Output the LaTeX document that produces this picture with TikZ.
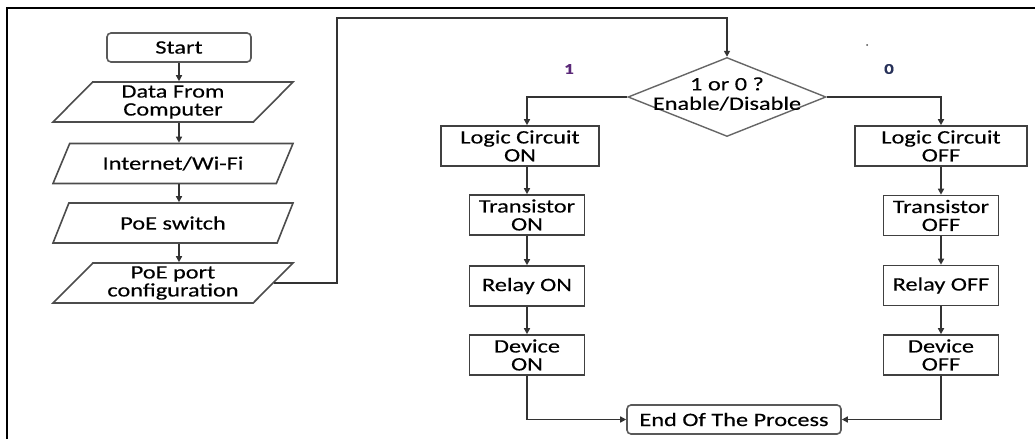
\documentclass[tikz,border=0pt]{standalone}
\usepackage{fontspec}
\setmainfont{Carlito}[FakeStretch=1.28, FakeBold=0.3]
\usetikzlibrary{
	shapes.geometric,
	arrows.meta
}
\usepackage{xcolor}

\begin{document}
\begin{tikzpicture}[x=1pt, y=-1pt,
    every node/.style={font=\fontsize{19}{18}\selectfont, text=black, inner sep=0pt, align=center},
    procbox/.style={draw=black!75, line width=1.6pt, rectangle, minimum height=40pt},
    iobox/.style={draw=black!70, line width=1.6pt, trapezium, trapezium left angle=40, trapezium right angle=140,
        trapezium stretches body, minimum width=240pt, minimum height=40pt},
    termbox/.style={draw=black!65, line width=1.6pt, rounded corners=4pt, minimum height=29pt},
    decbox/.style={draw=black!60, line width=1.4pt, diamond, minimum width=198pt, minimum height=79pt},
    arr/.style={draw=black!80, line width=1.5pt, -{Triangle[length=6pt,width=6pt]}}
]
                \useasboundingbox (0,0) rectangle (1035,439);
                % frame
                \draw[line width=2pt] (7,439) -- (7,8) -- (1035,8);
                \fill[black!70] (867,45) circle (1pt);

                % left column
                \node[termbox, minimum width=144pt] (start) at (179,47.5) {Start};
                \node[iobox] (data) at (173,102) {Data From\\Computer};
                \node[iobox] (net) at (173,163.5) {Internet/Wi-Fi};
                \node[iobox] (sw) at (173,223) {PoE switch};
                \node[iobox] (port) at (173,283) {PoE port\\configuration};
                \draw[arr] (start.south) -- (data.north -| start.south);
                \draw[arr] (data.south -| start.south) -- (net.north -| start.south);
                \draw[arr] (net.south -| start.south) -- (sw.north -| start.south);
                \draw[arr] (sw.south -| start.south) -- (port.north -| start.south);

                % decision
                \node[decbox] (dec) at (727,97) {};
                \node[font=\fontsize{19}{19.5}\selectfont] (dectxt) at (727,94) {1 or 0 ?\\Enable/Disable};
                \coordinate (bend) at (337,18);
                \draw[arr] (port.east) -| (bend) -| (dec.north);
                \node[font=\fontsize{15}{15}\selectfont\bfseries, text={rgb,255:red,90;green,40;blue,120}] (one) at (569,69) {1};
                \node[font=\fontsize{15}{15}\selectfont\bfseries, text={rgb,255:red,40;green,50;blue,90}] (zero) at (889,69) {0};

                % ON branch
                \node[procbox, minimum width=158pt] (lc1) at (520,146) {Logic Circuit\\ON};
                \node[procbox, minimum width=115pt] (tr1) at (527,215) {Transistor\\ON};
                \node[procbox, minimum width=115pt] (rl1) at (527,286) {Relay ON};
                \node[procbox, minimum width=115pt] (dv1) at (527,355) {Device\\ON};
                \draw[arr] (dec.west) -| (lc1.north -| tr1.north);
                \draw[arr] (lc1.south -| tr1.north) -- (tr1.north);
                \draw[arr] (tr1) -- (rl1);
                \draw[arr] (rl1) -- (dv1);

                % OFF branch
                \node[procbox, minimum width=172pt] (lc2) at (941,146) {Logic Circuit\\OFF};
                \node[procbox, minimum width=115pt] (tr2) at (941,215.5) {Transistor\\OFF};
                \node[procbox, minimum width=115pt] (rl2) at (941,285.5) {Relay OFF};
                \node[procbox, minimum width=115pt] (dv2) at (941,355) {Device\\OFF};
                \draw[arr] (dec.east) -| (lc2.north);
                \draw[arr] (lc2) -- (tr2);
                \draw[arr] (tr2) -- (rl2);
                \draw[arr] (rl2) -- (dv2);

                % end
                \node[termbox, minimum width=214pt] (stop) at (734,419.5) {End Of The Process};
                \draw[arr] (dv1.south) |- (stop.west);
                \draw[arr] (dv2.south) |- (stop.east);
            \end{tikzpicture}
\end{document}
